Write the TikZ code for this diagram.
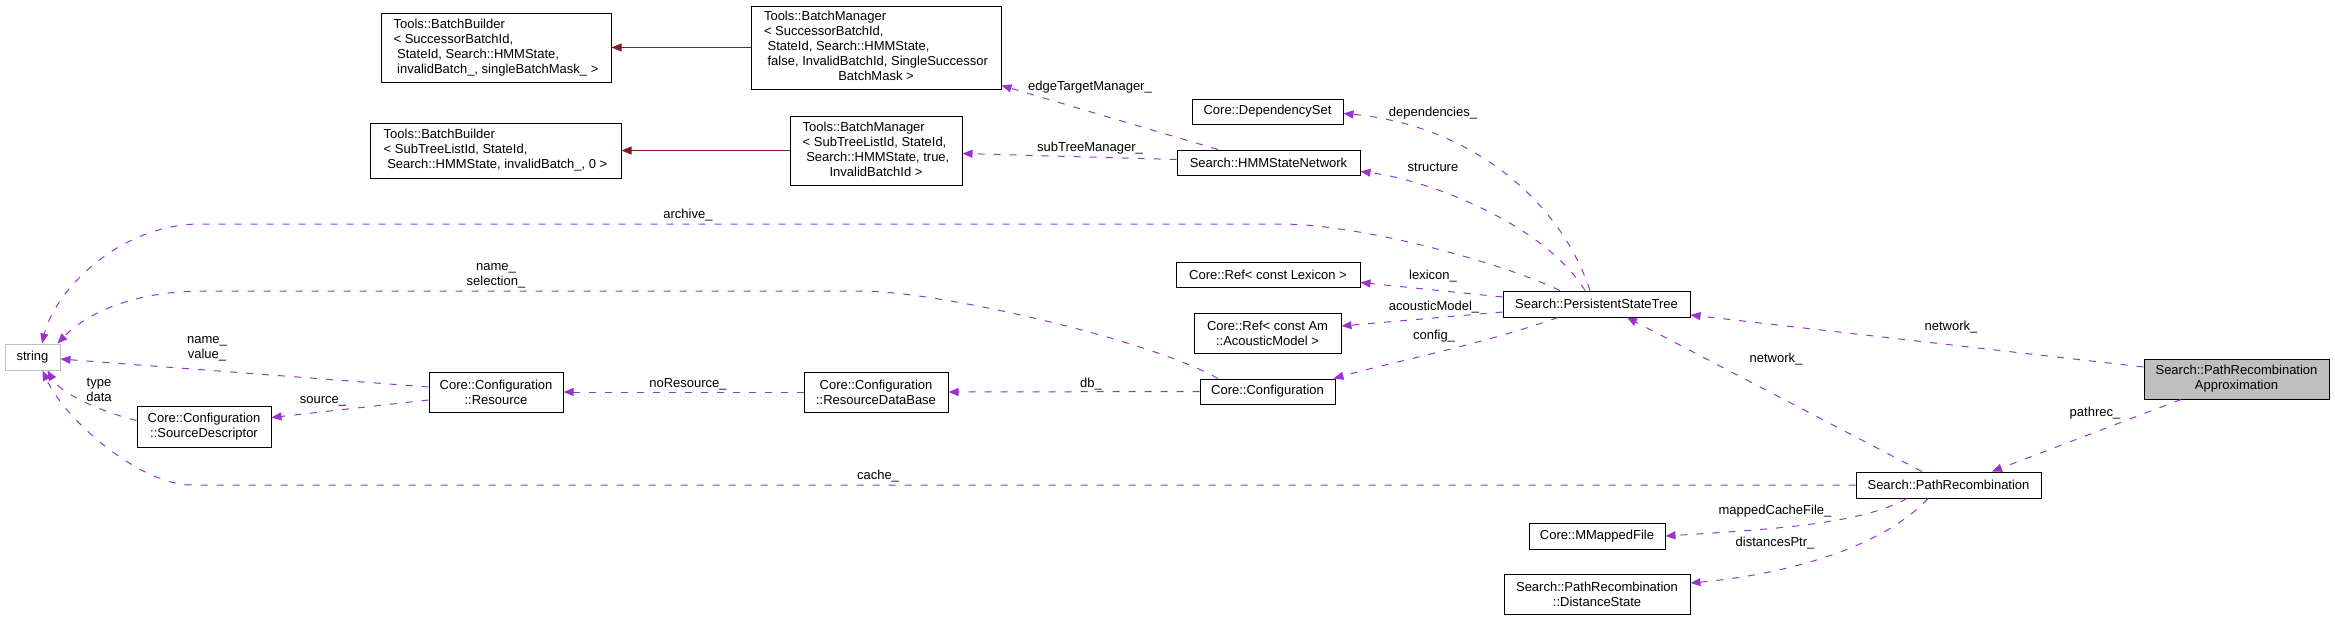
\documentclass[tikz,border=0pt]{standalone}
\usepackage{fontspec}
\setmainfont{Liberation Sans}
\usetikzlibrary{arrows.meta}
\definecolor{usecol}{RGB}{154,50,205}
\definecolor{inhcol}{RGB}{139,26,26}
\definecolor{graybox}{RGB}{191,191,191}
\newcommand{\ind}{\hspace*{3.6pt}}

\begin{document}
\begin{tikzpicture}[x=1pt, y=-1pt,
    every node/.style={font=\fontsize{13}{15}\selectfont},
    cls/.style={draw=black, line width=1pt, fill=white, inner sep=2pt},
    ext/.style={draw=graybox, line width=1pt, fill=white, inner sep=2pt},
    lbl/.style={inner sep=0pt, align=center},
    use/.style={draw=usecol, line width=1pt, dash pattern=on 7pt off 9pt,
        -{Triangle[length=10pt,width=8pt,fill=usecol]}},
    inh/.style={draw=inhcol, line width=1pt,
        -{Triangle[length=10pt,width=8pt,fill=inhcol]}}]
\useasboundingbox (0,0) rectangle (2335,621);

% classes
\node[cls, minimum width=230, minimum height=69, align=left] (bb1) at (496,47.5)
    {Tools::BatchBuilder\\< SuccessorBatchId,\\\ind StateId, Search::HMMState,\\\ind invalidBatch\_, singleBatchMask\_ >};
\node[cls, minimum width=251, minimum height=55, align=left] (bb2) at (495.5,150.5)
    {Tools::BatchBuilder\\< SubTreeListId, StateId,\\\ind Search::HMMState, invalidBatch\_, 0 >};
\node[cls, minimum width=250, minimum height=83] (bm1) at (876,47.5)
    {\begin{tabular}{@{}l@{}}Tools::BatchManager\\< SuccessorBatchId,\\\ind StateId, Search::HMMState,\\\ind false, InvalidBatchId, SingleSuccessor\\\multicolumn{1}{@{}c@{}}{BatchMask >}\end{tabular}};
\node[cls, minimum width=172, minimum height=69] (bm2) at (876,150.5)
    {\begin{tabular}{@{}l@{}}Tools::BatchManager\\< SubTreeListId, StateId,\\\ind Search::HMMState, true,\\\multicolumn{1}{@{}c@{}}{InvalidBatchId >}\end{tabular}};
\node[cls, minimum width=151, minimum height=25] (depset) at (1267.5,111.5) {Core::DependencySet};
\node[cls, minimum width=183, minimum height=25] (hmmnet) at (1268.5,162.5) {Search::HMMStateNetwork};
\node[ext, minimum width=55, minimum height=26] (str) at (32.5,357) {string};
\node[cls, minimum width=184, minimum height=25] (reflex) at (1268,274.5) {Core::Ref< const Lexicon >};
\node[cls, minimum width=147, minimum height=40, align=center] (refam) at (1267.5,333) {Core::Ref< const Am\\::AcousticModel >};
\node[cls, minimum width=135, minimum height=25] (config) at (1267.5,391.5) {Core::Configuration};
\node[cls, minimum width=144, minimum height=40, align=center] (rdb) at (876,392) {Core::Configuration\\::ResourceDataBase};
\node[cls, minimum width=134, minimum height=40, align=center] (res) at (496,392) {Core::Configuration\\::Resource};
\node[cls, minimum width=134, minimum height=41, align=center] (src) at (204,426.5) {Core::Configuration\\::SourceDescriptor};
\node[cls, minimum width=187, minimum height=26] (pst) at (1596.5,304) {Search::PersistentStateTree};
\node[cls, fill=graybox, minimum width=185, minimum height=40, align=center] (pra) at (2236.5,379) {Search::PathRecombination\\Approximation};
\node[cls, minimum width=185, minimum height=26] (pr) at (1948.5,485) {Search::PathRecombination};
\node[cls, minimum width=136, minimum height=26] (mmap) at (1597,536) {Core::MMappedFile};
\node[cls, minimum width=186, minimum height=40, align=center] (dist) at (1597,594) {Search::PathRecombination\\::DistanceState};

% inheritance
\draw[inh] (bm1.west) -- (bb1.east);
\draw[inh] (bm2.west) -- (bb2.east);

% usage
\draw[use] ([xshift=-50.5pt]hmmnet.north) -- ([yshift=4pt]bm1.south east);
\draw[use] ([yshift=3pt]hmmnet.west) -- ([yshift=-3pt]bm2.east);
\draw[use] ([xshift=-6.5pt]pst.north) .. controls (1560,200) and (1470,125) .. ([yshift=-2pt]depset.east);
\draw[use] ([xshift=-11.5pt]pst.north) .. controls (1545,225) and (1430,180) .. ([yshift=-9pt]hmmnet.east);
\draw[use] ([xshift=-36.5pt]pst.north) .. controls (1500,262) and (1360,224) .. (1280,224)
    -- (200,224) .. controls (120,224) and (55,290) .. ([xshift=9.5pt]str.north);
\draw[use] ([xshift=-49.5pt]config.north) .. controls (1150,340) and (940,291) .. (860,291)
    -- (205,291) .. controls (130,291) and (85,315) .. ([xshift=-3pt]str.north east);
\draw[use] ([yshift=5pt]res.west) -- ([yshift=-2pt]str.east);
\draw[use] ([yshift=6pt]src.west) .. controls (95,410) and (60,392) .. ([xshift=15pt]str.south);
\draw[use] ([yshift=-8pt]res.west) -- ([yshift=9pt]src.east);
\draw[use] (rdb.west) -- (res.east);
\draw[use] (config.west) -- (rdb.east);
\draw[use] ([yshift=7pt]pst.west) -- ([yshift=-8pt]reflex.east);
\draw[use] ([yshift=-8pt]pst.west) -- ([yshift=7pt]refam.east);
\draw[use] ([xshift=-38.5pt]pst.south) .. controls (1480,345) and (1400,360) .. ([xshift=-2pt]config.north east);
\draw[use] ([yshift=12pt]pra.west) -- ([yshift=-11pt]pst.east);
\draw[use] ([xshift=-26.5pt]pr.north) -- ([xshift=30.5pt]pst.south);
\draw[use] ([xshift=-55.5pt]pra.south) -- ([xshift=43.5pt]pr.north);
\draw[use] (pr.west) -- (192,485) .. controls (140,485) and (65,420) .. ([xshift=10pt]str.south);
\draw[use] ([xshift=-41.5pt]pr.south) .. controls (1860,525) and (1760,530) .. (mmap.east);
\draw[use] ([xshift=-20.5pt]pr.south) .. controls (1880,550) and (1780,575) .. ([yshift=11pt]dist.east);

% member names
\node[lbl] (lEdge) at (1090,87) {edgeTargetManager\_};
\node[lbl] (lSub) at (1090,148) {subTreeManager\_};
\node[lbl] (lDep) at (1433,113) {dependencies\_};
\node[lbl] (lStruct) at (1433,167) {structure};
\node[lbl] (lArch) at (688,215) {archive\_};
\node[lbl] (lSel) at (496,275.5) {name\_\\selection\_};
\node[lbl] (lVal) at (207,349) {name\_\\value\_};
\node[lbl] (lType) at (99,390) {type\\data};
\node[lbl] (lSrc) at (323,401) {source\_};
\node[lbl] (lNoRes) at (688,384) {noResource\_};
\node[lbl] (lDb) at (1091,384) {db\_};
\node[lbl] (lLex) at (1433,276) {lexicon\_};
\node[lbl] (lAm) at (1434,307) {acousticModel\_};
\node[lbl] (lConf) at (1434,336) {config\_};
\node[lbl] (lNet) at (1951,327) {network\_};
\node[lbl] (lNet2) at (1776,359) {network\_};
\node[lbl] (lPath) at (2095,413) {pathrec\_};
\node[lbl] (lCache) at (878,476) {cache\_};
\node[lbl] (lMap) at (1775,511) {mappedCacheFile\_};
\node[lbl] (lDist) at (1775,543) {distancesPtr\_};
\end{tikzpicture}
\end{document}
